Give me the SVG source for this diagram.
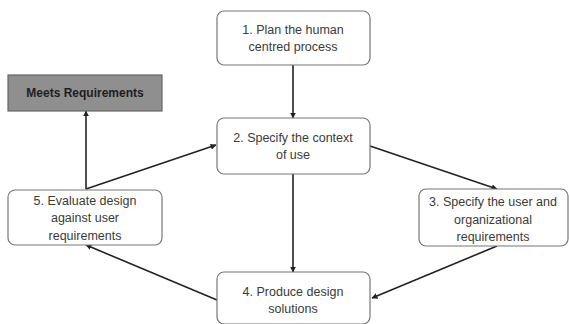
<svg xmlns="http://www.w3.org/2000/svg" width="569" height="324" viewBox="0 0 569 324">
<style>
.box{fill:#fff;stroke:#777;stroke-width:1.2}
.grey{fill:#8f8f8f;stroke:#666;stroke-width:1.2}
text{font-family:"Liberation Sans",Arial,sans-serif;font-size:12.5px;fill:#3a3a3a;text-anchor:middle}
.c line{stroke:#222;stroke-width:1.6;marker-end:url(#ah)}
</style>
<defs>
<marker id="ah" viewBox="0 0 10 10" refX="9" refY="5" markerWidth="6" markerHeight="6" markerUnits="userSpaceOnUse" orient="auto">
<path d="M0,0 L10,5 L0,10 z" fill="#222"/>
</marker>
</defs>
<rect width="569" height="324" fill="#fff"/>
<g class="c">
<line x1="293" y1="65" x2="293" y2="118"/>
<line x1="293" y1="174" x2="293" y2="272"/>
<line x1="370" y1="146" x2="497" y2="189"/>
<line x1="497" y1="246" x2="372" y2="298"/>
<line x1="217" y1="300" x2="86" y2="245"/>
<line x1="86" y1="189" x2="216" y2="145"/>
<line x1="86" y1="189" x2="86" y2="111"/>
</g>
<g id="n1"><rect class="box" x="217" y="11" width="153" height="54" rx="7"/><text x="293" y="34">1. Plan the human</text><text x="293" y="51">centred process</text></g>
<g id="n2"><rect class="box" x="217" y="118" width="153" height="56" rx="7"/><text x="293" y="142">2. Specify the context</text><text x="293" y="159">of use</text></g>
<g id="n3"><rect class="box" x="419" y="189" width="149" height="57" rx="7"/><text x="493" y="206">3. Specify the user and</text><text x="493" y="224">organizational</text><text x="493" y="241">requirements</text></g>
<g id="n4"><rect class="box" x="217" y="272" width="153" height="52" rx="7"/><text x="293" y="296">4. Produce design</text><text x="293" y="313">solutions</text></g>
<g id="n5"><rect class="box" x="8" y="190" width="154" height="55" rx="7"/><text x="85" y="205">5. Evaluate design</text><text x="85" y="222">against user</text><text x="85" y="240">requirements</text></g>
<g id="meets"><rect class="grey" x="8" y="75" width="154" height="36"/><text x="85" y="97" style="fill:#1e1e1e;font-weight:bold;font-size:12px">Meets Requirements</text></g>
</svg>
